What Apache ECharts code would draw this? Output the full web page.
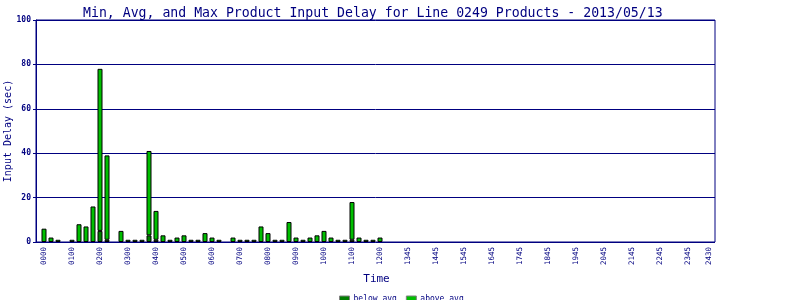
<!DOCTYPE html>
<html>
<head>
<meta charset="utf-8">
<script src="https://cdn.jsdelivr.net/npm/echarts@6/dist/echarts.min.js"></script>
<style>html,body{margin:0;padding:0;background:#fff}#c{width:800px;height:300px}</style>
</head>
<body>
<div id="c"></div>
<script>
// 15-minute slots (index 0 .. 95)
var slotCount = 96;
var tickIndex = [0,4,8,12,16,20,24,28,32,36,40,44,48,52,56,60,64,68,72,76,80,84,88,92,95];
var tickLabels = ['0000','0100','0200','0300','0400','0500','0600','0700','0800','0900','1000','1100','1200',
                  '1345','1445','1545','1645','1745','1845','1945','2045','2145','2245','2345','2430'];
// below-average portion (sec)
var belowAvg = [0,0,0,0,0,0,0,0,5,1,0,0,0,0,0,3,1,0,0,0,0,0,0,0,0,0,0,0,0,0,0,0,0,0,0,0,0,0,0,0,0,0,0,0,1,0,0,0,0];
// above-average portion (sec)
var aboveAvg = [6,2,1,0,1,8,7,16,73,38,0,5,1,1,1,38,13,3,1,2,3,1,1,4,2,1,0,2,1,1,1,7,4,1,1,9,2,1,2,3,5,2,1,1,17,2,1,1,2];

var navy = '#000080';
var mono = '"DejaVu Sans Mono", "Liberation Mono", monospace';

var labelMap = {};
tickIndex.forEach(function(t, k){ labelMap[t] = tickLabels[k]; });
var categories = [];
for (var i = 0; i < slotCount; i++) categories.push(labelMap[i] || ('s' + i));
function series(arr){
  var out = [];
  for (var i = 0; i < slotCount; i++) {
    var v = i < arr.length ? arr[i] : 0;
    out.push(v > 0 ? v : null);
  }
  return out;
}

var chart = echarts.init(document.getElementById('c'), null, {renderer:'canvas'});
chart.setOption({
  animation: false,
  backgroundColor: '#ffffff',
  title: {
    text: 'Min, Avg, and Max Product Input Delay for Line 0249 Products - 2013/05/13',
    left: 78, top: 2,
    textStyle: {color: navy, fontFamily: mono, fontSize: 13.2, fontWeight: 'normal'}
  },
  legend: {
    left: 334, top: 290,
    itemWidth: 10, itemHeight: 6, itemGap: 9,
    icon: 'rect',
    itemStyle: {borderColor: '#808080', borderWidth: 1},
    textStyle: {color: navy, fontFamily: mono, fontSize: 8, padding: [0,0,0,-1]},
    data: ['below avg', 'above avg']
  },
  grid: [
    {left: 36, right: 85, top: 20, bottom: 58, show: true, borderColor: navy, borderWidth: 1, containLabel: false, outerBoundsMode: 'none'},
    {left: 40.5, width: 672, top: 20, bottom: 58, containLabel: false, outerBoundsMode: 'none'}
  ],
  xAxis: [
    {gridIndex: 0, type: 'value', min: 0, max: 1, show: false},
    {
      gridIndex: 1, type: 'category', data: categories, boundaryGap: true,
      name: 'Time', nameLocation: 'middle', nameGap: 32, nameMoveOverlap: false,
      nameTextStyle: {color: navy, fontFamily: mono, fontSize: 11},
      axisLine: {show: false},
      axisTick: {show: false},
      splitLine: {show: false},
      axisLabel: {
        interval: function(idx){ return labelMap[idx] !== undefined; },
        rotate: 90, margin: 5,
        color: navy, fontFamily: mono, fontSize: 7.5,
        formatter: function(v, idx){ return labelMap[idx] || ''; }
      }
    }
  ],
  yAxis: [
    {
      gridIndex: 0, type: 'value', min: 0, max: 100, interval: 20,
      name: 'Input Delay (sec)', nameLocation: 'middle', nameGap: 23, nameMoveOverlap: false,
      nameTextStyle: {color: navy, fontFamily: mono, fontSize: 10},
      axisLine: {show: true, lineStyle: {color: navy}},
      axisTick: {show: true, length: 3, lineStyle: {color: navy}},
      splitLine: {show: true, lineStyle: {color: navy, width: 1}},
      axisLabel: {color: navy, fontFamily: mono, fontSize: 8, fontWeight: 'bold', margin: 5}
    },
    {gridIndex: 1, type: 'value', min: 0, max: 100, show: false}
  ],
  series: [
    {
      name: 'below avg', type: 'bar', stack: 'd', barWidth: 5, xAxisIndex: 1, yAxisIndex: 1,
      itemStyle: {color: '#007f00', borderColor: '#000000', borderWidth: 1},
      data: series(belowAvg)
    },
    {
      name: 'above avg', type: 'bar', stack: 'd', barWidth: 5, xAxisIndex: 1, yAxisIndex: 1,
      itemStyle: {color: '#00bf00', borderColor: '#000000', borderWidth: 1},
      data: series(aboveAvg)
    }
  ]
});
</script>
</body>
</html>
